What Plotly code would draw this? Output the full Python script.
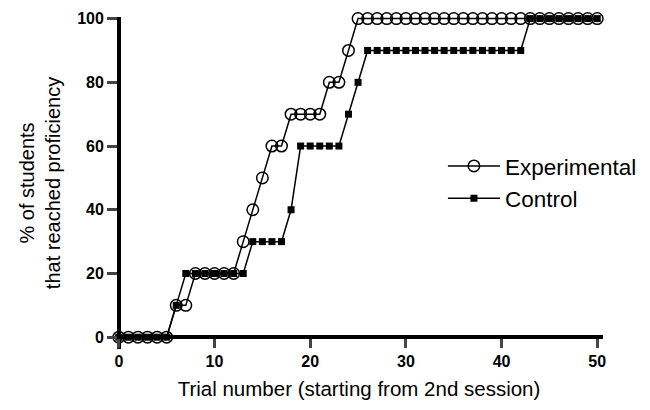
import plotly.graph_objects as go

trials = list(range(0, 51))
experimental = [0, 0, 0, 0, 0, 0, 10, 10, 20, 20, 20, 20, 20, 30, 40, 50, 60, 60,
                70, 70, 70, 70, 80, 80, 90] + [100] * 26
control = [0, 0, 0, 0, 0, 0, 10, 20, 20, 20, 20, 20, 20, 20, 30, 30, 30, 30, 40,
           60, 60, 60, 60, 60, 70, 80] + [90] * 17 + [100] * 8

x_ticks = [0, 10, 20, 30, 40, 50]
y_ticks = [0, 20, 40, 60, 80, 100]

XR = [-0.4, 50.6]
YR = [-3.7, 100.5]

FONT = "Liberation Sans, Arial, sans-serif"

fig = go.Figure()
fig.add_trace(go.Scatter(
    x=trials, y=experimental, name="Experimental", mode="lines+markers",
    line=dict(color="black", width=1.5),
    marker=dict(symbol="circle-open", size=11.5, color="black", line=dict(width=1.5)),
    cliponaxis=False, legendgroup="e"))
fig.add_trace(go.Scatter(
    x=trials, y=control, name="Control", mode="lines+markers",
    line=dict(color="black", width=1.5),
    marker=dict(symbol="square", size=7, color="black"),
    cliponaxis=False, legendgroup="c"))

fig.update_layout(
    width=650, height=410,
    margin=dict(l=107, r=55, t=9, b=69),
    plot_bgcolor="white", paper_bgcolor="white",
    font=dict(family=FONT, color="black"),
    showlegend=True,
    legend=dict(x=0.672, y=0.615, xanchor="left", yanchor="top",
                font=dict(size=22.5, family=FONT), bgcolor="rgba(0,0,0,0)",
                traceorder="grouped", tracegroupgap=0, itemwidth=52),
    xaxis=dict(range=XR, tickvals=x_ticks, ticks="outside", ticklen=9, tickwidth=2.5,
               showline=True, linewidth=3.5, linecolor="black", showgrid=False, zeroline=False,
               anchor="free", position=(0 - YR[0]) / (YR[1] - YR[0]), automargin=False,
               tickfont=dict(size=16, family=FONT, weight="bold"),
               title=dict(text="Trial number (starting from 2nd session)",
                          font=dict(size=20.5, family=FONT), standoff=11)),
    yaxis=dict(range=YR, tickvals=y_ticks, ticks="outside", ticklen=10, tickwidth=2.5,
               showline=True, linewidth=3.5, linecolor="black", showgrid=False, zeroline=False,
               anchor="free", position=(0 - XR[0]) / (XR[1] - XR[0]), automargin=False,
               tickfont=dict(size=16, family=FONT, weight="bold"),
               title=dict(text="% of students<br>that reached proficiency",
                          font=dict(size=20, family=FONT), standoff=10)),
)

fig.write_html("out.html")
